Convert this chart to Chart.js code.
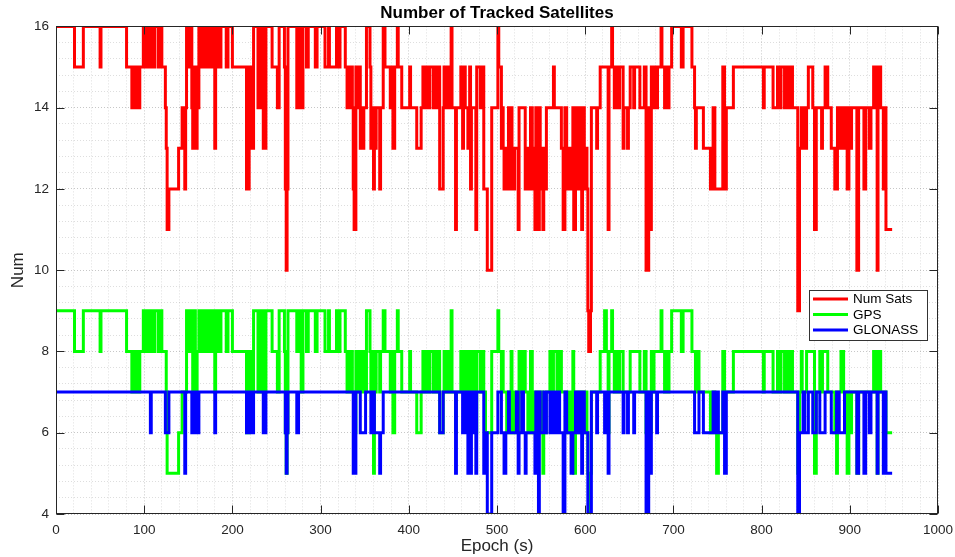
<!DOCTYPE html>
<html>
<head>
<meta charset="utf-8">
<title>Number of Tracked Satellites</title>
<script src="https://cdn.jsdelivr.net/npm/chart.js@4.4.1/dist/chart.umd.min.js"></script>
<style>
  html, body { margin: 0; padding: 0; background: #fff; }
  #satChart { display: block; }
</style>
</head>
<body>
<canvas id="satChart" width="955" height="557"></canvas>
<script>
// epochs (s) where the count changes; each value holds until the next epoch
const epochs = [
  0, 21, 31, 50, 51, 80, 86, 88, 89, 91, 93, 95,
  99, 101, 102, 104, 105, 107, 108, 109, 111, 112, 116, 117,
  120, 124, 125, 126, 128, 139, 143, 146, 147, 148, 149, 150,
  151, 152, 154, 155, 156, 157, 158, 159, 160, 161, 162, 164,
  165, 167, 168, 170, 171, 173, 174, 177, 178, 180, 181, 183,
  184, 186, 187, 193, 195, 200, 216, 219, 221, 224, 229, 232,
  235, 238, 245, 251, 253, 259, 260, 261, 262, 263, 273, 275,
  278, 280, 284, 286, 294, 296, 305, 309, 310, 318, 321, 322,
  328, 330, 331, 333, 334, 336, 337, 338, 340, 342, 343, 345,
  346, 348, 349, 351, 352, 356, 357, 359, 360, 361, 363, 367,
  368, 371, 373, 379, 380, 382, 384, 387, 388, 392, 401, 402,
  409, 414, 416, 419, 420, 423, 424, 428, 429, 432, 433, 435,
  439, 440, 443, 444, 446, 448, 449, 453, 454, 459, 460, 461,
  462, 463, 464, 466, 467, 468, 469, 470, 471, 473, 475, 476,
  477, 481, 484, 485, 487, 489, 494, 501, 502, 505, 506, 507,
  508, 510, 511, 513, 514, 516, 517, 519, 520, 522, 524, 525,
  528, 530, 532, 533, 535, 537, 538, 540, 542, 543, 544, 546,
  547, 548, 549, 551, 552, 553, 555, 556, 560, 562, 564, 565,
  568, 571, 573, 575, 577, 579, 580, 582, 583, 584, 586, 587,
  589, 591, 592, 593, 596, 597, 599, 601, 602, 603, 604, 606,
  607, 613, 614, 617, 622, 624, 626, 627, 630, 631, 633, 635,
  637, 639, 643, 644, 648, 649, 651, 655, 656, 662, 667, 669,
  672, 674, 675, 677, 678, 681, 682, 686, 687, 690, 691, 694,
  695, 698, 709, 711, 721, 724, 725, 726, 729, 734, 742, 745,
  747, 749, 751, 756, 758, 760, 768, 802, 803, 813, 818, 821,
  822, 826, 827, 829, 830, 833, 834, 835, 841, 843, 845, 846,
  847, 849, 851, 853, 858, 860, 862, 866, 868, 869, 872, 875,
  879, 883, 885, 886, 888, 890, 893, 894, 897, 899, 901, 902,
  908, 910, 916, 918, 922, 924, 927, 929, 931, 932, 935, 938,
  939, 941, 948
];

const totalSats = [
  16, 15, 16, 15, 16, 15, 14, 15, 14, 15, 14, 15,
  16, 15, 16, 15, 16, 15, 15, 16, 15, 16, 15, 16,
  15, 14, 13, 11, 12, 13, 14, 12, 14, 16, 15, 16,
  15, 16, 14, 13, 15, 15, 14, 13, 15, 14, 16, 15,
  16, 15, 16, 15, 16, 15, 16, 15, 16, 13, 16, 15,
  16, 15, 16, 15, 16, 15, 12, 15, 13, 16, 14, 16,
  13, 16, 15, 14, 16, 15, 12, 10, 12, 16, 14, 16,
  14, 16, 15, 16, 15, 16, 15, 16, 15, 16, 15, 16,
  15, 14, 15, 14, 15, 14, 12, 11, 15, 14, 15, 13,
  14, 13, 14, 14, 16, 15, 13, 14, 12, 13, 14, 12,
  14, 16, 15, 14, 15, 13, 15, 16, 15, 14, 15, 14,
  13, 14, 15, 14, 15, 14, 15, 14, 15, 14, 15, 12,
  14, 15, 14, 15, 14, 16, 14, 11, 14, 15, 14, 13,
  14, 15, 14, 14, 13, 14, 15, 12, 14, 14, 14, 11,
  15, 14, 15, 12, 12, 10, 14, 16, 15, 13, 14, 13,
  12, 13, 12, 14, 12, 14, 13, 12, 13, 13, 11, 14,
  14, 14, 12, 13, 12, 13, 14, 12, 13, 11, 14, 13,
  11, 14, 12, 13, 11, 13, 12, 14, 14, 14, 15, 14,
  14, 14, 13, 11, 14, 13, 12, 13, 12, 12, 14, 11,
  14, 13, 12, 14, 11, 14, 12, 13, 12, 9, 8, 9,
  14, 13, 14, 15, 15, 15, 11, 15, 16, 15, 14, 15,
  14, 15, 13, 14, 13, 14, 15, 14, 15, 14, 15, 10,
  14, 11, 15, 14, 15, 14, 15, 16, 15, 14, 15, 14,
  15, 16, 15, 16, 15, 14, 13, 14, 14, 13, 12, 14,
  12, 12, 12, 15, 12, 14, 15, 14, 15, 14, 15, 14,
  15, 14, 15, 14, 15, 14, 15, 14, 9, 13, 14, 13,
  14, 13, 14, 15, 14, 11, 14, 14, 13, 14, 15, 14,
  13, 12, 12, 14, 13, 14, 13, 14, 12, 14, 13, 14,
  10, 14, 12, 14, 13, 14, 15, 14, 10, 15, 14, 12,
  14, 11, 11
];

const gpsSats = [
  9, 8, 9, 8, 9, 8, 7, 8, 7, 8, 7, 8,
  9, 8, 9, 8, 9, 9, 8, 9, 8, 9, 8, 9,
  8, 8, 7, 5, 5, 6, 7, 7, 7, 9, 8, 9,
  8, 9, 8, 7, 8, 9, 8, 7, 8, 8, 9, 8,
  9, 8, 9, 8, 9, 8, 9, 8, 9, 7, 9, 8,
  9, 8, 9, 8, 9, 8, 6, 8, 7, 9, 7, 9,
  7, 9, 8, 7, 9, 8, 6, 5, 6, 9, 8, 9,
  7, 9, 8, 9, 8, 9, 8, 9, 8, 9, 8, 9,
  8, 7, 8, 7, 8, 7, 7, 6, 8, 7, 8, 7,
  8, 7, 8, 7, 9, 8, 7, 8, 5, 7, 8, 7,
  8, 9, 8, 7, 8, 6, 8, 9, 8, 7, 8, 7,
  6, 7, 8, 7, 8, 7, 8, 7, 8, 7, 8, 6,
  7, 8, 7, 8, 7, 9, 7, 6, 7, 8, 7, 7,
  7, 8, 8, 7, 8, 8, 8, 7, 8, 7, 8, 6,
  8, 7, 8, 7, 6, 6, 8, 9, 8, 7, 8, 7,
  7, 7, 6, 7, 6, 8, 7, 6, 7, 6, 6, 8,
  7, 8, 7, 7, 6, 7, 8, 6, 7, 6, 7, 7,
  7, 7, 6, 7, 5, 6, 6, 7, 8, 7, 8, 8,
  7, 8, 7, 7, 7, 7, 6, 7, 6, 7, 8, 5,
  7, 7, 6, 7, 6, 7, 6, 7, 6, 5, 4, 5,
  7, 7, 7, 8, 9, 8, 6, 8, 9, 8, 7, 8,
  7, 8, 7, 7, 7, 7, 8, 8, 8, 7, 8, 6,
  7, 6, 8, 7, 8, 8, 8, 9, 8, 7, 8, 7,
  8, 9, 8, 9, 8, 8, 7, 8, 7, 7, 6, 7,
  6, 5, 6, 8, 7, 7, 8, 7, 8, 7, 8, 7,
  8, 7, 8, 7, 8, 7, 8, 7, 5, 7, 8, 7,
  7, 7, 8, 8, 8, 5, 7, 8, 7, 8, 8, 7,
  7, 6, 5, 7, 7, 8, 7, 7, 5, 7, 6, 7,
  5, 7, 7, 7, 7, 7, 8, 7, 5, 8, 7, 7,
  7, 6, 6
];

const glonassSats = [
  7, 7, 7, 7, 7, 7, 7, 7, 7, 7, 7, 7,
  7, 7, 7, 7, 7, 6, 7, 7, 7, 7, 7, 7,
  7, 6, 6, 6, 7, 7, 7, 5, 7, 7, 7, 7,
  7, 7, 6, 6, 7, 6, 6, 6, 7, 6, 7, 7,
  7, 7, 7, 7, 7, 7, 7, 7, 7, 6, 7, 7,
  7, 7, 7, 7, 7, 7, 6, 7, 6, 7, 7, 7,
  6, 7, 7, 7, 7, 7, 6, 5, 6, 7, 6, 7,
  7, 7, 7, 7, 7, 7, 7, 7, 7, 7, 7, 7,
  7, 7, 7, 7, 7, 7, 5, 5, 7, 7, 7, 6,
  6, 6, 6, 7, 7, 7, 6, 6, 7, 6, 6, 5,
  6, 7, 7, 7, 7, 7, 7, 7, 7, 7, 7, 7,
  7, 7, 7, 7, 7, 7, 7, 7, 7, 7, 7, 6,
  7, 7, 7, 7, 7, 7, 7, 5, 7, 7, 7, 6,
  7, 7, 6, 7, 5, 6, 7, 5, 6, 7, 6, 5,
  7, 7, 7, 5, 6, 4, 6, 7, 7, 6, 6, 6,
  5, 6, 6, 7, 6, 6, 6, 6, 6, 7, 5, 6,
  7, 6, 5, 6, 6, 6, 6, 6, 6, 5, 7, 6,
  4, 7, 6, 6, 6, 7, 6, 7, 6, 7, 7, 6,
  7, 6, 6, 4, 7, 6, 6, 6, 6, 5, 6, 6,
  7, 6, 6, 7, 5, 7, 6, 6, 6, 4, 4, 4,
  7, 6, 7, 7, 6, 7, 5, 7, 7, 7, 7, 7,
  7, 7, 6, 7, 6, 7, 7, 6, 7, 7, 7, 4,
  7, 5, 7, 7, 7, 6, 7, 7, 7, 7, 7, 7,
  7, 7, 7, 7, 7, 6, 6, 6, 7, 6, 6, 7,
  6, 7, 6, 7, 5, 7, 7, 7, 7, 7, 7, 7,
  7, 7, 7, 7, 7, 7, 7, 7, 4, 6, 6, 6,
  7, 6, 6, 7, 6, 6, 7, 6, 6, 6, 7, 7,
  6, 6, 7, 7, 6, 6, 6, 7, 7, 7, 7, 7,
  5, 7, 5, 7, 6, 7, 7, 7, 5, 7, 7, 5,
  7, 5, 5
];

const seriesLabels = ['Num Sats', 'GPS', 'GLONASS'];
const seriesColors = ['#ff0000', '#00ff00', '#0000ff'];
const xTicks = [0, 100, 200, 300, 400, 500, 600, 700, 800, 900, 1000];
const yTicks = [4, 6, 8, 10, 12, 14, 16];

const FONT = '"Liberation Sans", Arial, Helvetica, sans-serif';
const AXIS = '#262626';

function toPoints(values) {
  return epochs.map((t, i) => ({ x: t, y: values[i] }));
}

const isMajorX = v => xTicks.includes(v);
const isMajorY = v => yTicks.some(t => Math.abs(t - v) < 1e-6);

// box, inward ticks on all four sides and the legend, drawn like a matlab axes
const matlabFrame = {
  id: 'matlabFrame',
  afterDatasetsDraw(chart) {
    const { ctx, chartArea: a, scales: { x, y } } = chart;
    const L = Math.round(a.left) + 0.5, R = Math.round(a.right) - 0.5;
    const T = Math.round(a.top) + 0.5, B = Math.round(a.bottom) - 0.5;
    ctx.save();
    ctx.strokeStyle = AXIS;
    ctx.lineWidth = 1;
    ctx.beginPath();
    xTicks.forEach(v => {
      const px = Math.round(x.getPixelForValue(v)) + 0.5;
      ctx.moveTo(px, B); ctx.lineTo(px, B - 8);
      ctx.moveTo(px, T); ctx.lineTo(px, T + 8);
    });
    yTicks.forEach(v => {
      const py = Math.round(y.getPixelForValue(v)) + 0.5;
      ctx.moveTo(L, py); ctx.lineTo(L + 8, py);
      ctx.moveTo(R, py); ctx.lineTo(R - 8, py);
    });
    ctx.stroke();
    ctx.strokeRect(L, T, R - L, B - T);

    // legend box
    const lx = 809.5, ly = 290.5, lw = 118, lh = 50;
    ctx.fillStyle = '#fff';
    ctx.fillRect(lx, ly, lw, lh);
    ctx.strokeStyle = '#333';
    ctx.strokeRect(lx, ly, lw, lh);
    ctx.font = '13.5px ' + FONT;
    ctx.textBaseline = 'middle';
    chart.data.datasets.forEach((ds, i) => {
      const cy = 299 + i * 15.5;
      ctx.strokeStyle = ds.borderColor;
      ctx.lineWidth = 3;
      ctx.beginPath();
      ctx.moveTo(813, cy); ctx.lineTo(848, cy);
      ctx.stroke();
      ctx.fillStyle = '#000';
      ctx.fillText(ds.label, 853, cy + 0.5);
    });
    ctx.restore();
  }
};

const datasets = [totalSats, gpsSats, glonassSats].map((vals, i) => ({
  label: seriesLabels[i],
  data: toPoints(vals),
  borderColor: seriesColors[i],
  backgroundColor: seriesColors[i],
  borderWidth: 3,
  stepped: true,
  pointRadius: 0,
  fill: false,
  order: 3 - i
}));

new Chart(document.getElementById('satChart'), {
  type: 'line',
  data: { datasets },
  options: {
    responsive: false,
    animation: false,
    devicePixelRatio: 1,
    layout: { padding: { top: 0, right: 17, bottom: 0, left: 0 } },
    plugins: {
      legend: { display: false },
      tooltip: { enabled: false },
      title: {
        display: true,
        text: 'Number of Tracked Satellites',
        fullSize: false,
        color: '#000',
        font: { family: FONT, size: 17, weight: 'bold' },
        padding: { top: 3, bottom: 3 }
      }
    },
    scales: {
      x: {
        type: 'linear',
        min: 0,
        max: 1000,
        ticks: {
          stepSize: 20,
          autoSkip: false,
          maxRotation: 0,
          padding: 8,
          color: AXIS,
          font: { family: FONT, size: 13.5 },
          callback: v => (isMajorX(v) ? v : '')
        },
        grid: {
          drawTicks: false,
          lineWidth: 1,
          color: c => (c.tick && isMajorX(c.tick.value) ? 'rgba(0,0,0,0.22)' : 'rgba(0,0,0,0.13)')
        },
        border: { display: false, dash: [1, 2] },
        title: {
          display: true,
          text: 'Epoch (s)',
          color: AXIS,
          font: { family: FONT, size: 17 },
          padding: { top: 0, bottom: 0 }
        },
        afterFit: s => { s.height = 43; s.paddingLeft = 0; s.paddingRight = 0; }
      },
      y: {
        type: 'linear',
        min: 4,
        max: 16,
        ticks: {
          stepSize: 0.4,
          autoSkip: false,
          padding: 7,
          color: AXIS,
          font: { family: FONT, size: 13.5 },
          callback: v => (isMajorY(v) ? Math.round(v) : '')
        },
        grid: {
          drawTicks: false,
          lineWidth: 1,
          color: c => (c.tick && isMajorY(c.tick.value) ? 'rgba(0,0,0,0.22)' : 'rgba(0,0,0,0.13)')
        },
        border: { display: false, dash: [1, 2] },
        title: {
          display: true,
          text: 'Num',
          color: AXIS,
          font: { family: FONT, size: 17 },
          padding: { top: 8, bottom: 0 }
        },
        afterFit: s => { s.width = 56; s.paddingTop = 0; s.paddingBottom = 0; }
      }
    }
  },
  plugins: [matlabFrame]
});
</script>
</body>
</html>
